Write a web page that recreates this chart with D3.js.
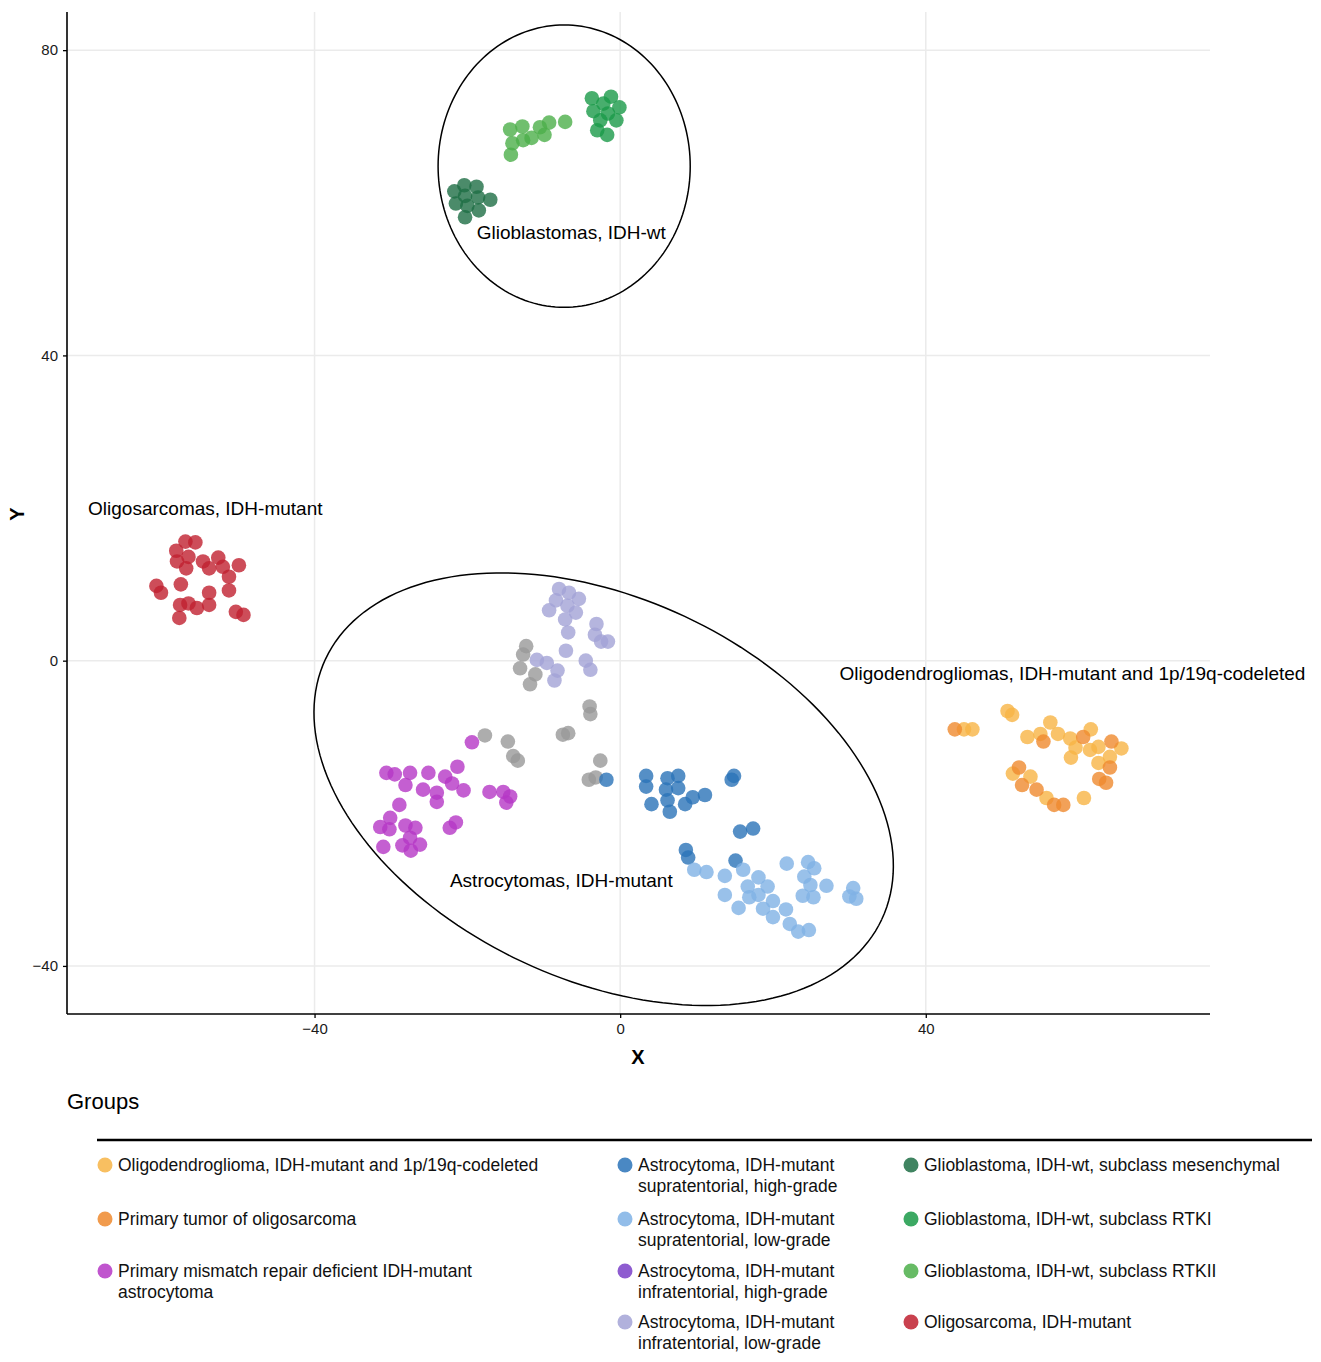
<!DOCTYPE html>
<html>
<head>
<meta charset="utf-8">
<script src="https://cdn.jsdelivr.net/npm/d3@7"></script>
<style>
  body { margin: 0; background: #fff; }
  svg { font-family: "Liberation Sans", Arial, sans-serif; }
</style>
</head>
<body>
<svg id="chart" width="1321" height="1362"></svg>
<script>
// group names (legend order) and colours
const groupNames = [
  "Oligodendroglioma, IDH-mutant and 1p/19q-codeleted",
  "Primary tumor of oligosarcoma",
  "Primary mismatch repair deficient IDH-mutant\nastrocytoma",
  "Astrocytoma, IDH-mutant\nsupratentorial, high-grade",
  "Astrocytoma, IDH-mutant\nsupratentorial, low-grade",
  "Astrocytoma, IDH-mutant\ninfratentorial, high-grade",
  "Astrocytoma, IDH-mutant\ninfratentorial, low-grade",
  "Glioblastoma, IDH-wt, subclass mesenchymal",
  "Glioblastoma, IDH-wt, subclass RTKI",
  "Glioblastoma, IDH-wt, subclass RTKII",
  "Oligosarcoma, IDH-mutant"
];
const groupColors = ["#f7b445", "#ef8a2e", "#b537c6", "#2a73b8", "#7fb2e5", "#7a3fc8",
  "#a3a3d6", "#1e6e45", "#1a9a48", "#4caf4a", "#c0202f"];
const otherColor = "#999999";

// t-SNE coordinates per group [x, y]
const oligodendroglioma = [[50.7,-6.6],[51.3,-7.1],[45.0,-9.0],[46.1,-9.0],[53.3,-10.0],[55.0,-9.6],[56.3,-8.1],
  [57.3,-9.6],[58.9,-10.2],[59.6,-11.4],[61.6,-9.0],[61.5,-11.7],[62.6,-11.3],[64.1,-12.6],[65.6,-11.5],
  [59.0,-12.7],[62.6,-13.4],[51.4,-14.8],[53.7,-15.2],[55.8,-18.0],[60.7,-18.0]];
const primaryOligosarcoma = [[43.8,-9.0],[55.4,-10.6],[60.6,-10.0],[64.3,-10.6],[64.1,-14.0],[52.2,-14.0],
  [52.6,-16.3],[54.5,-16.9],[62.7,-15.5],[63.6,-16.0],[56.8,-18.9],[58.0,-18.9]];
const mmrDeficient = [[-19.4,-10.7],[-30.6,-14.7],[-29.5,-14.9],[-27.5,-14.7],[-25.1,-14.7],[-28.1,-16.3],
  [-22.9,-15.2],[-21.3,-13.9],[-22.0,-16.1],[-20.5,-17.0],[-25.8,-16.9],[-24.0,-17.3],[-24.0,-18.5],
  [-17.1,-17.2],[-15.3,-17.2],[-14.4,-17.8],[-14.9,-18.6],[-28.9,-18.9],[-30.1,-20.6],[-31.4,-21.8],
  [-30.2,-22.1],[-28.1,-21.6],[-26.8,-21.9],[-27.5,-23.2],[-28.5,-24.2],[-27.4,-24.9],[-26.2,-24.1],
  [-31.0,-24.4],[-22.3,-21.9],[-21.5,-21.2]];
const astroSupraHigh = [[-1.8,-15.6],[3.4,-15.1],[3.4,-16.5],[6.2,-15.4],[7.6,-15.1],[6.0,-16.9],[7.6,-16.7],
  [6.2,-18.3],[4.1,-18.8],[6.5,-19.8],[8.5,-18.8],[9.5,-17.9],[11.1,-17.6],[14.9,-15.1],[14.6,-15.6],
  [15.7,-22.4],[17.4,-22.0],[8.6,-24.8],[8.9,-25.8],[15.1,-26.2]];
const astroSupraLow = [[9.7,-27.4],[11.3,-27.7],[13.7,-28.2],[16.1,-27.4],[18.1,-28.4],[19.3,-29.6],[16.7,-29.6],
  [16.9,-31.0],[18.1,-30.7],[20.0,-31.5],[18.7,-32.5],[20.0,-33.6],[21.7,-32.6],[15.5,-32.4],[13.7,-30.7],
  [21.8,-26.6],[24.6,-26.4],[25.4,-27.2],[24.1,-28.3],[24.9,-29.4],[27.0,-29.5],[23.9,-30.8],[25.3,-31.0],
  [22.2,-34.5],[23.3,-35.5],[24.7,-35.3],[30.5,-29.8],[30.0,-30.9],[30.9,-31.2]];
const astroInfraHigh = [];
const astroInfraLow = [[-8.0,9.4],[-6.7,8.9],[-5.4,8.1],[-8.4,7.9],[-6.9,7.2],[-9.3,6.6],[-5.8,6.3],[-7.2,5.4],
  [-6.8,3.7],[-3.1,4.8],[-3.3,3.4],[-2.5,2.5],[-1.6,2.5],[-7.1,1.3],[-10.9,0.1],[-9.6,-0.3],[-8.2,-1.3],
  [-8.6,-2.6],[-4.5,0.0],[-3.9,-1.2]];
const gbmMesenchymal = [[-21.7,61.5],[-20.4,62.3],[-18.8,62.1],[-20.3,60.9],[-18.6,60.7],[-17.0,60.4],
  [-21.5,59.9],[-20.0,59.6],[-18.5,59.0],[-20.3,58.1]];
const gbmRTKI = [[-3.7,73.7],[-1.2,73.9],[-2.2,73.0],[-0.1,72.5],[-3.5,72.0],[-1.6,71.7],[-0.5,70.8],
  [-2.6,70.8],[-3.0,69.5],[-1.7,68.9]];
const gbmRTKII = [[-14.4,69.6],[-12.8,70.0],[-10.5,69.9],[-9.3,70.5],[-7.2,70.6],[-14.1,67.8],[-12.7,68.2],
  [-11.6,68.5],[-9.9,68.9],[-14.3,66.3]];
const oligosarcoma = [[-56.9,15.6],[-55.6,15.5],[-58.1,14.4],[-56.5,13.6],[-58.0,13.0],[-56.8,12.1],[-54.6,13.0],
  [-53.8,12.1],[-52.6,13.5],[-52.0,12.3],[-49.9,12.5],[-51.2,11.0],[-60.7,9.8],[-60.1,8.9],[-57.5,10.0],
  [-53.8,8.9],[-51.2,9.2],[-57.6,7.3],[-56.5,7.5],[-55.4,6.9],[-53.8,7.3],[-57.7,5.6],[-50.3,6.4],[-49.3,6.0]];
// samples not in the legend (grey)
const otherSamples = [[-12.3,1.9],[-12.7,0.8],[-13.1,-1.0],[-11.1,-1.8],[-11.8,-3.1],[-4.0,-6.0],[-3.9,-7.0],
  [-7.5,-9.7],[-6.8,-9.5],[-17.7,-9.8],[-14.7,-10.6],[-14.0,-12.5],[-13.4,-13.1],[-2.6,-13.1],[-4.1,-15.6],
  [-3.2,-15.3]];

const groupPoints = [oligodendroglioma, primaryOligosarcoma, mmrDeficient, astroSupraHigh, astroSupraLow,
  astroInfraHigh, astroInfraLow, gbmMesenchymal, gbmRTKI, gbmRTKII, oligosarcoma];

// cluster annotations and ellipses
const annotations = [
  { text: "Glioblastomas, IDH-wt", x: -6.4, y: 56.1 },
  { text: "Oligosarcomas, IDH-mutant", x: -54.3, y: 19.9 },
  { text: "Oligodendrogliomas, IDH-mutant and 1p/19q-codeleted", x: 59.2, y: -1.7 },
  { text: "Astrocytomas, IDH-mutant", x: -7.7, y: -28.8 }
];
const ellipses = [
  { cx: -7.33, cy: 64.8, a: 16.5, b: 18.5, angle: 0 },
  { cx: -2.16, cy: -16.84, a: 40.2, b: 25.0, angle: -25.1 }
];

const xTicks = [-40, 0, 40];
const yTicks = [-40, 0, 40, 80];

const svg = d3.select("#chart");
const plot = { left: 67, right: 1210, top: 12, bottom: 1014 };

const x = d3.scaleLinear().domain([-72.4, 77.2]).range([plot.left, plot.right]);
const y = d3.scaleLinear().domain([-46.3, 85.0]).range([plot.bottom, plot.top]);

// grid
svg.append("g").selectAll("line").data(xTicks).join("line")
  .attr("x1", d => x(d)).attr("x2", d => x(d))
  .attr("y1", plot.top).attr("y2", plot.bottom)
  .attr("stroke", "#ebebeb").attr("stroke-width", 1.5);
svg.append("g").selectAll("line").data(yTicks).join("line")
  .attr("y1", d => y(d)).attr("y2", d => y(d))
  .attr("x1", plot.left).attr("x2", plot.right)
  .attr("stroke", "#ebebeb").attr("stroke-width", 1.5);

// points: grey first, then groups
const pts = svg.append("g");
pts.selectAll("circle.other").data(otherSamples).join("circle")
  .attr("class", "other")
  .attr("cx", d => x(d[0])).attr("cy", d => y(d[1])).attr("r", 7.3)
  .attr("fill", otherColor).attr("fill-opacity", 0.8);
groupPoints.forEach((arr, i) => {
  pts.append("g").selectAll("circle").data(arr).join("circle")
    .attr("cx", d => x(d[0])).attr("cy", d => y(d[1])).attr("r", 7.3)
    .attr("fill", groupColors[i]).attr("fill-opacity", 0.8);
});

// ellipses computed in data space
const line = d3.line().x(d => x(d[0])).y(d => y(d[1]));
ellipses.forEach(e => {
  const phi = e.angle * Math.PI / 180;
  const path = d3.range(0, 361, 2).map(t => {
    const r = t * Math.PI / 180;
    const ex = e.a * Math.cos(r), ey = e.b * Math.sin(r);
    return [e.cx + ex * Math.cos(phi) - ey * Math.sin(phi), e.cy + ex * Math.sin(phi) + ey * Math.cos(phi)];
  });
  svg.append("path").attr("d", line(path))
    .attr("fill", "none").attr("stroke", "#000").attr("stroke-width", 1.5);
});

// annotations
svg.append("g").selectAll("text").data(annotations).join("text")
  .attr("x", d => x(d.x)).attr("y", d => y(d.y))
  .attr("dy", "0.35em").attr("text-anchor", "middle")
  .attr("font-size", 19).attr("fill", "#000")
  .text(d => d.text);

// axes
const minus = d => String(d).replace("-", "\u2212");
const xAxis = svg.append("g").attr("transform", `translate(0,${plot.bottom})`)
  .call(d3.axisBottom(x).tickValues(xTicks).tickSize(4).tickPadding(5).tickFormat(minus));
const yAxis = svg.append("g").attr("transform", `translate(${plot.left},0)`)
  .call(d3.axisLeft(y).tickValues(yTicks).tickSize(4).tickPadding(5).tickFormat(minus));
[xAxis, yAxis].forEach(a => {
  a.attr("font-size", 15).attr("font-family", "'Liberation Sans', Arial, sans-serif");
  a.select(".domain").attr("stroke", "#000").attr("stroke-width", 1.6);
  a.selectAll(".tick line").attr("stroke", "#000").attr("stroke-width", 1.3);
  a.selectAll(".tick text").attr("fill", "#1a1a1a");
});
// domain lines without outer ticks
xAxis.select(".domain").attr("d", `M${plot.left},0H${plot.right}`);
yAxis.select(".domain").attr("d", `M0,${plot.top}V${plot.bottom}`);

svg.append("text").attr("x", 638).attr("y", 1064).attr("text-anchor", "middle")
  .attr("font-size", 20).attr("font-weight", "bold").text("X");
svg.append("text").attr("transform", "translate(24,514) rotate(-90)").attr("text-anchor", "middle")
  .attr("font-size", 20).attr("font-weight", "bold").text("Y");

// legend
svg.append("text").attr("x", 67).attr("y", 1109).attr("font-size", 22).text("Groups");
svg.append("line").attr("x1", 97).attr("x2", 1312).attr("y1", 1140).attr("y2", 1140)
  .attr("stroke", "#000").attr("stroke-width", 2.5);

const legendCols = [0, 0, 0, 1, 1, 1, 1, 2, 2, 2, 2];
const legendRows = [0, 1, 2, 0, 1, 2, 3, 0, 1, 2, 3];
const colX = [105, 625, 911];
const rowY = [1165, 1219, 1271, 1322];
const leg = svg.append("g");
groupNames.forEach((name, i) => {
  const cx = colX[legendCols[i]], cy = rowY[legendRows[i]];
  leg.append("circle").attr("cx", cx).attr("cy", cy).attr("r", 7.5)
    .attr("fill", groupColors[i]).attr("fill-opacity", 0.85);
  const t = leg.append("text").attr("x", cx + 13).attr("y", cy + 6).attr("font-size", 17.5).attr("fill", "#111");
  name.split("\n").forEach((ln, j) => {
    t.append("tspan").attr("x", cx + 13).attr("dy", j === 0 ? 0 : 21).text(ln);
  });
});
</script>
</body>
</html>
